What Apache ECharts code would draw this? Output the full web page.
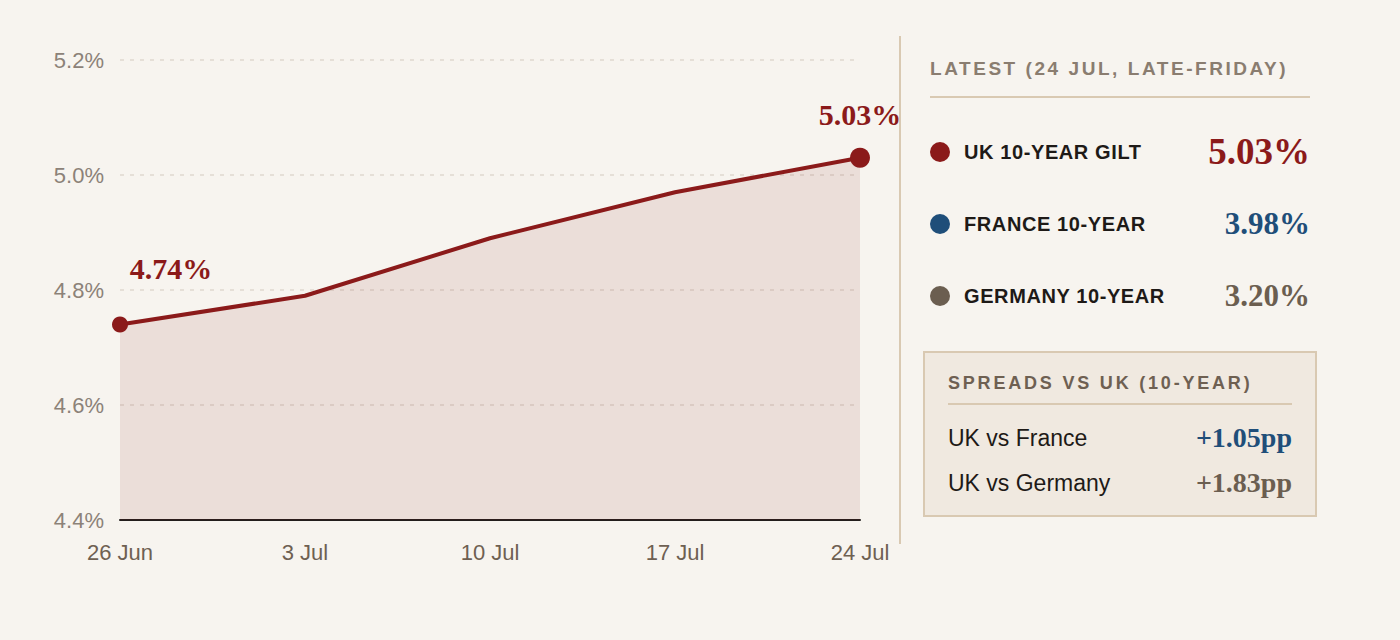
<!DOCTYPE html>
<html lang="en">
<head>
    <meta charset="UTF-8">
    <title>UK 10-year gilt yield</title>
    <script src="https://cdn.jsdelivr.net/npm/echarts@6/dist/echarts.min.js"></script>
    <style>
        html, body { margin: 0; padding: 0; background: #f7f4ef; }
        #wrap { position: relative; width: 1400px; height: 640px; overflow: hidden; }
        #main { position: absolute; left: 0; top: 0; width: 1400px; height: 640px; }
        #side { position: absolute; left: 899px; top: 36px; width: 0; height: 508px; border-left: 2px solid #d9c9b2; }
        .panel { position: absolute; font-family: "Liberation Sans", Arial, sans-serif; }
        .title { position: absolute; left: 930px; top: 56px; width: 380px; height: 40px; border-bottom: 2px solid #d9c9b2;
                 font-size: 19px; font-weight: bold; letter-spacing: 2.55px; color: #8a7d70; line-height: 26px; }
        .row { position: absolute; left: 930px; width: 380px; height: 44px; }
        .dot { position: absolute; left: 0; top: 12px; width: 20px; height: 20px; border-radius: 50%; }
        .lab { position: absolute; left: 34px; top: 0; line-height: 44px; font-size: 20px; font-weight: bold; letter-spacing: 0.6px; color: #1e1a17; }
        .val { position: absolute; right: 0; top: 0; line-height: 44px; font-weight: bold; font-family: "Liberation Serif", "Times New Roman", serif; }
        .box { position: absolute; left: 923px; top: 351px; width: 390px; height: 162px; background: #f0e9e0; border: 2px solid #d9c9b2; }
        .btitle { position: absolute; left: 23px; top: 16px; width: 344px; height: 34px; border-bottom: 2px solid #d9c9b2;
                  font-size: 18px; font-weight: bold; letter-spacing: 2.8px; color: #6e6052; line-height: 28px; }
        .srow { position: absolute; left: 23px; width: 344px; height: 36px; line-height: 36px; }
        .slab { position: absolute; left: 0; font-size: 23px; color: #1e1a17; }
        .sval { position: absolute; right: 0; font-family: "Liberation Serif", "Times New Roman", serif; font-weight: bold; font-size: 28px; }
    </style>
</head>
<body>
<div id="wrap">
    <div id="main"></div>
    <div id="side"></div>
    <div id="panel"></div>
</div>
<script type="text/javascript">
    // 日期与英国10年期国债收益率
    var dates = ['26 Jun', '3 Jul', '10 Jul', '17 Jul', '24 Jul'];
    var ukYield = [4.74, 4.79, 4.89, 4.97, 5.03];

    // 右侧最新数据
    var latestNames = ['UK 10-YEAR GILT', 'FRANCE 10-YEAR', 'GERMANY 10-YEAR'];
    var latestValues = [5.03, 3.98, 3.20];
    var latestColors = ['#8b1a1a', '#1f4e79', '#6b5e50'];
    var spreadNames = ['UK vs France', 'UK vs Germany'];
    var spreadValues = [1.05, 1.83];
    var spreadColors = ['#1f4e79', '#6b5e50'];

    var red = '#8b1a1a';

    // 首尾两个点带标签
    var lineData = ukYield.map(function (v, i) {
        var item = { value: v };
        if (i === 0) {
            item.symbolSize = 16;
            item.label = { show: true, position: 'top', offset: [51, -28] };
        } else if (i === ukYield.length - 1) {
            item.symbolSize = 20;
            item.label = { show: true, position: 'top', offset: [0, -13] };
        } else {
            item.symbol = 'none';
        }
        return item;
    });

    var option = {
        backgroundColor: '#f7f4ef',
        animation: false,
        grid: { left: 120, right: 540, top: 60, bottom: 120 },
        xAxis: {
            type: 'category',
            boundaryGap: false,
            data: dates,
            axisLine: { lineStyle: { color: '#221e1c', width: 2 } },
            axisTick: { show: false },
            axisLabel: { color: '#6e6052', fontSize: 22, fontFamily: 'Liberation Sans', margin: 21 }
        },
        yAxis: {
            type: 'value',
            min: 4.4,
            max: 5.2,
            interval: 0.2,
            axisLine: { show: false },
            axisTick: { show: false },
            axisLabel: {
                color: '#8c8278', fontSize: 22, fontFamily: 'Liberation Sans', margin: 16,
                formatter: function (v) { return v.toFixed(1) + '%'; }
            },
            splitLine: { lineStyle: { color: '#e0d8cf', type: [4, 6], width: 1.5 } }
        },
        series: [{
            type: 'line',
            data: lineData,
            symbol: 'circle',
            showSymbol: true,
            itemStyle: { color: red },
            lineStyle: { color: red, width: 4 },
            areaStyle: { color: red, opacity: 0.1 },
            label: {
                show: false,
                color: red,
                fontFamily: 'Liberation Serif',
                fontWeight: 'bold',
                fontSize: 30,
                formatter: function (p) { return p.value.toFixed(2) + '%'; }
            },
            z: 3
        }]
    };

    var myChart = echarts.init(document.getElementById('main'), null, { renderer: 'svg' });
    myChart.setOption(option);

    // 右侧面板
    var html = '<div class="panel title">LATEST (24 JUL, LATE-FRIDAY)</div>';
    var rowTops = [130, 202, 274];
    var valSizes = [37, 31, 31];
    latestNames.forEach(function (name, i) {
        html += '<div class="panel row" style="top:' + rowTops[i] + 'px">' +
            '<div class="dot" style="background:' + latestColors[i] + '"></div>' +
            '<div class="lab">' + name + '</div>' +
            '<div class="val" style="color:' + latestColors[i] + ';font-size:' + valSizes[i] + 'px">' + latestValues[i].toFixed(2) + '%</div>' +
            '</div>';
    });
    html += '<div class="panel box"><div class="btitle">SPREADS VS UK (10-YEAR)</div>';
    var sTops = [67, 112];
    spreadNames.forEach(function (name, i) {
        html += '<div class="srow" style="top:' + sTops[i] + 'px">' +
            '<span class="slab">' + name + '</span>' +
            '<span class="sval" style="color:' + spreadColors[i] + '">+' + spreadValues[i].toFixed(2) + 'pp</span></div>';
    });
    html += '</div>';
    document.getElementById('panel').innerHTML = html;
</script>
</body>
</html>
